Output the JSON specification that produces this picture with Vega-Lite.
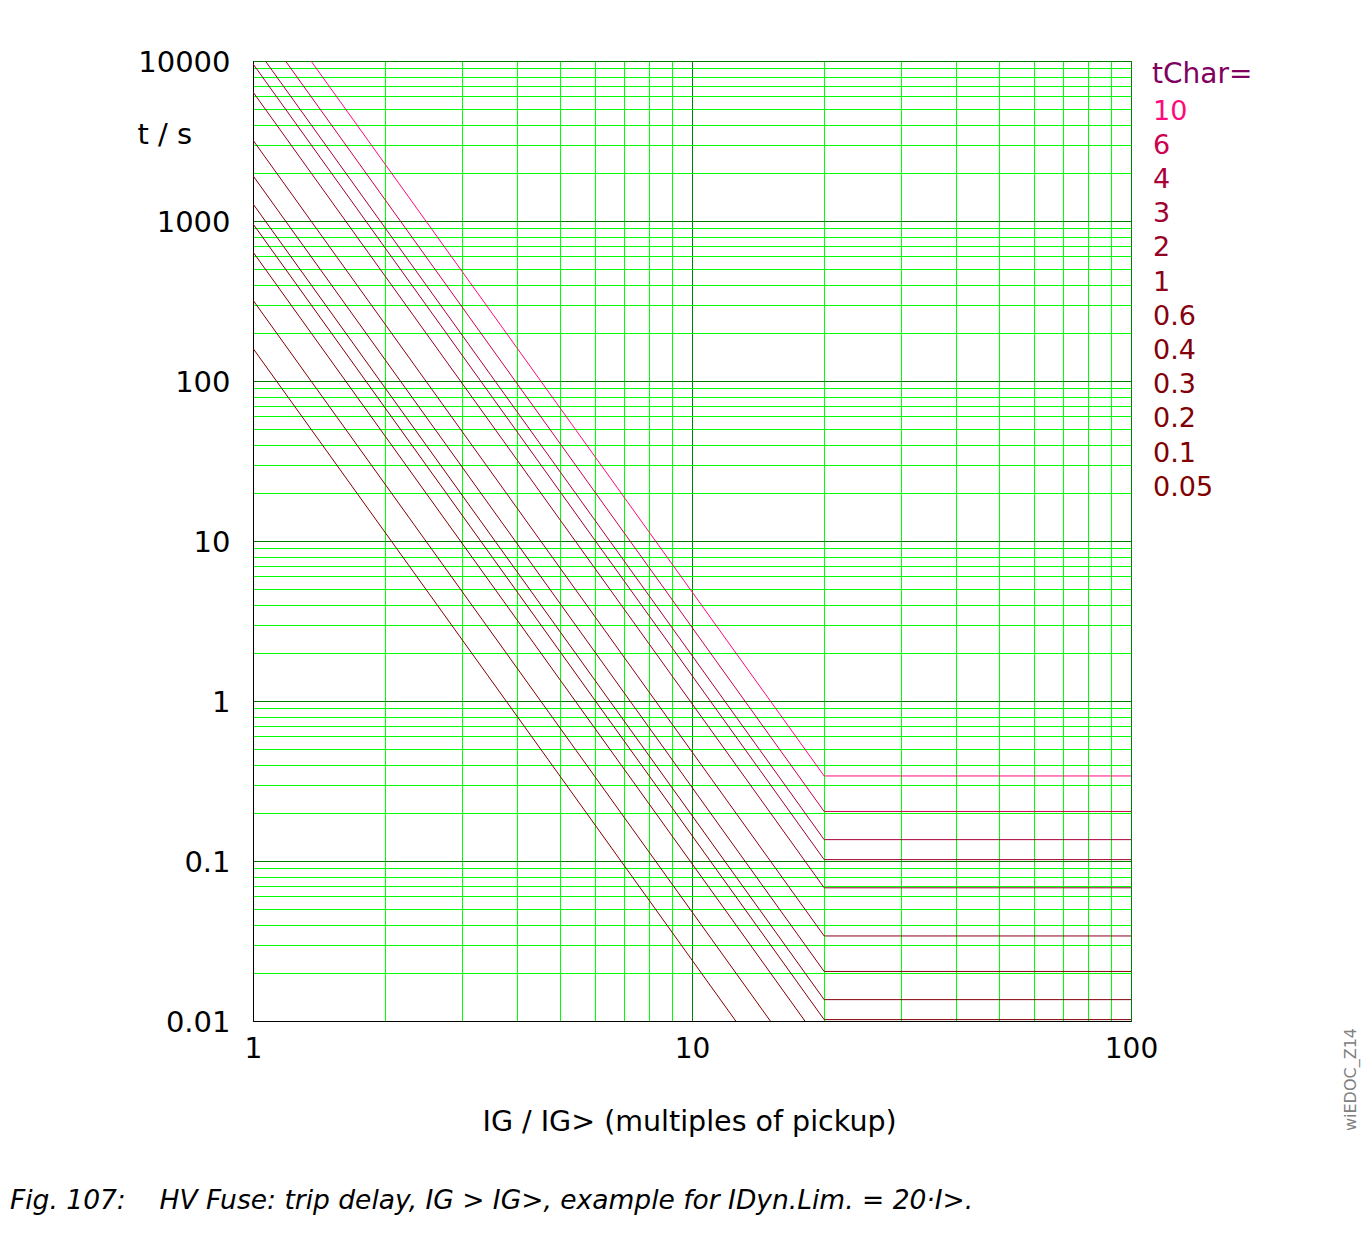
{
  "$schema": "https://vega.github.io/schema/vega-lite/v6.json",
  "width": 878,
  "height": 960,
  "autosize": {"type": "none"},
  "padding": {"left": 253, "top": 61, "right": 232, "bottom": 223},
  "background": "white",
  "config": {
    "font": "DejaVu Sans",
    "view": {"stroke": "#333333", "strokeWidth": 1}
  },
  "title": {
    "text": "Fig. 107:\u00a0\u00a0\u00a0 HV Fuse: trip delay, IG > IG>, example for IDyn.Lim. = 20·I>.",
    "orient": "bottom",
    "anchor": "start",
    "frame": "group",
    "dx": -243,
    "offset": 73,
    "fontSize": 26.5,
    "fontStyle": "italic",
    "fontWeight": "normal",
    "baseline": "alphabetic",
    "color": "black"
  },
  "data": {
    "values": [
      {"tChar": 10, "I": 1.356, "t": 10000},
      {"tChar": 10, "I": 20, "t": 0.34},
      {"tChar": 10, "I": 100, "t": 0.34},
      {"tChar": 6, "I": 1.186, "t": 10000},
      {"tChar": 6, "I": 20, "t": 0.204},
      {"tChar": 6, "I": 100, "t": 0.204},
      {"tChar": 4, "I": 1.067, "t": 10000},
      {"tChar": 4, "I": 20, "t": 0.136},
      {"tChar": 4, "I": 100, "t": 0.136},
      {"tChar": 3, "I": 1, "t": 9600},
      {"tChar": 3, "I": 20, "t": 0.102},
      {"tChar": 3, "I": 100, "t": 0.102},
      {"tChar": 2, "I": 1, "t": 6400},
      {"tChar": 2, "I": 20, "t": 0.068},
      {"tChar": 2, "I": 100, "t": 0.068},
      {"tChar": 1, "I": 1, "t": 3200},
      {"tChar": 1, "I": 20, "t": 0.034},
      {"tChar": 1, "I": 100, "t": 0.034},
      {"tChar": 0.6, "I": 1, "t": 1920},
      {"tChar": 0.6, "I": 20, "t": 0.0204},
      {"tChar": 0.6, "I": 100, "t": 0.0204},
      {"tChar": 0.4, "I": 1, "t": 1280},
      {"tChar": 0.4, "I": 20, "t": 0.0136},
      {"tChar": 0.4, "I": 100, "t": 0.0136},
      {"tChar": 0.3, "I": 1, "t": 960},
      {"tChar": 0.3, "I": 20, "t": 0.0102},
      {"tChar": 0.3, "I": 100, "t": 0.0102},
      {"tChar": 0.2, "I": 1, "t": 640},
      {"tChar": 0.2, "I": 18.08, "t": 0.01},
      {"tChar": 0.1, "I": 1, "t": 320},
      {"tChar": 0.1, "I": 15.08, "t": 0.01},
      {"tChar": 0.05, "I": 1, "t": 160},
      {"tChar": 0.05, "I": 12.58, "t": 0.01}
    ]
  },
  "resolve": {"axis": {"x": "independent", "y": "independent"}},
  "layer": [
    {
      "mark": {"type": "line", "strokeWidth": 1, "clip": true},
      "encoding": {
        "x": {
          "field": "I",
          "type": "quantitative",
          "scale": {"type": "log", "domain": [1, 100], "nice": false},
          "axis": {
            "orient": "bottom",
            "values": [2, 3, 4, 5, 6, 7, 8, 9, 20, 30, 40, 50, 60, 70, 80, 90],
            "grid": true,
            "gridColor": "#00ff00",
            "gridWidth": 1,
            "ticks": false,
            "labels": false,
            "domain": false,
            "title": null
          }
        },
        "y": {
          "field": "t",
          "type": "quantitative",
          "scale": {"type": "log", "domain": [0.01, 10000], "nice": false},
          "axis": {
            "orient": "left",
            "values": [0.02, 0.03, 0.04, 0.05, 0.06, 0.07, 0.08, 0.09, 0.2, 0.3, 0.4, 0.5, 0.6, 0.7, 0.8, 0.9, 2, 3, 4, 5, 6, 7, 8, 9, 20, 30, 40, 50, 60, 70, 80, 90, 200, 300, 400, 500, 600, 700, 800, 900, 2000, 3000, 4000, 5000, 6000, 7000, 8000, 9000],
            "grid": true,
            "gridColor": "#00ff00",
            "gridWidth": 1,
            "ticks": false,
            "labels": false,
            "domain": false,
            "title": null
          }
        },
        "color": {
          "field": "tChar",
          "type": "nominal",
          "scale": {
            "domain": [10, 6, 4, 3, 2, 1, 0.6, 0.4, 0.3, 0.2, 0.1, 0.05],
            "range": ["#ff0a7a", "#cc004e", "#aa0038", "#a00030", "#960024", "#8c0018", "#860010", "#82000a", "#800006", "#800004", "#800002", "#800000"]
          },
          "legend": {
            "orient": "none",
            "legendX": 899,
            "legendY": 0,
            "title": "tChar=",
            "titleFontSize": 28,
            "titleFontWeight": "normal",
            "titleColor": "#800060",
            "titlePadding": 9,
            "labelFontSize": 27,
            "labelOffset": -26,
            "symbolSize": 0,
            "symbolOpacity": 0,
            "symbolStrokeWidth": 0,
            "rowPadding": 6.2,
            "padding": 0,
            "encode": {"labels": {"update": {"fill": {"scale": "color", "field": "value"}}}}
          }
        }
      }
    },
    {
      "mark": {"type": "point", "opacity": 0},
      "encoding": {
        "x": {
          "field": "I",
          "type": "quantitative",
          "axis": {
            "orient": "bottom",
            "values": [1, 10, 100],
            "grid": true,
            "gridColor": "#008000",
            "gridWidth": 1,
            "ticks": false,
            "tickSize": 0,
            "domain": true,
            "domainColor": "black",
            "domainWidth": 1,
            "format": "~g",
            "labelFontSize": 28,
            "labelColor": "black",
            "labelBaseline": "alphabetic",
            "labelAlign": "center",
            "labelPadding": 36,
            "labelOverlap": false,
            "labelBound": false,
            "labelFlush": false,
            "title": "IG / IG> (multiples of pickup)",
            "titleFontSize": 28.5,
            "titleFontWeight": "normal",
            "titleColor": "black",
            "titleAlign": "left",
            "titleBaseline": "alphabetic",
            "titleX": 229,
            "titleY": 109
          }
        },
        "y": {
          "field": "t",
          "type": "quantitative",
          "axis": {
            "orient": "left",
            "values": [0.01, 0.1, 1, 10, 100, 1000, 10000],
            "grid": true,
            "gridColor": "#008000",
            "gridWidth": 1,
            "ticks": false,
            "tickSize": 0,
            "domain": true,
            "domainColor": "black",
            "domainWidth": 1,
            "format": "~g",
            "labelFontSize": 29,
            "labelColor": "black",
            "labelBaseline": "alphabetic",
            "labelOffset": 10,
            "labelPadding": 23,
            "labelOverlap": false,
            "labelBound": false,
            "labelFlush": false,
            "title": "t / s",
            "titleAngle": 0,
            "titleFontSize": 29,
            "titleFontWeight": "normal",
            "titleColor": "black",
            "titleAlign": "left",
            "titleBaseline": "alphabetic",
            "titleX": -116,
            "titleY": 82
          }
        }
      }
    },
    {
      "mark": {"type": "rule", "opacity": 0},
      "encoding": {
        "y": {
          "field": "t",
          "type": "quantitative",
          "axis": {
            "orient": "right",
            "grid": false,
            "labels": false,
            "ticks": false,
            "domain": false,
            "title": "wiEDOC_Z14",
            "titleAngle": 270,
            "titleFontSize": 16,
            "titleFontWeight": "normal",
            "titleColor": "#808080",
            "titleAlign": "center",
            "titleBaseline": "alphabetic",
            "titleX": 224,
            "titleY": 1018
          }
        }
      }
    }
  ]
}
